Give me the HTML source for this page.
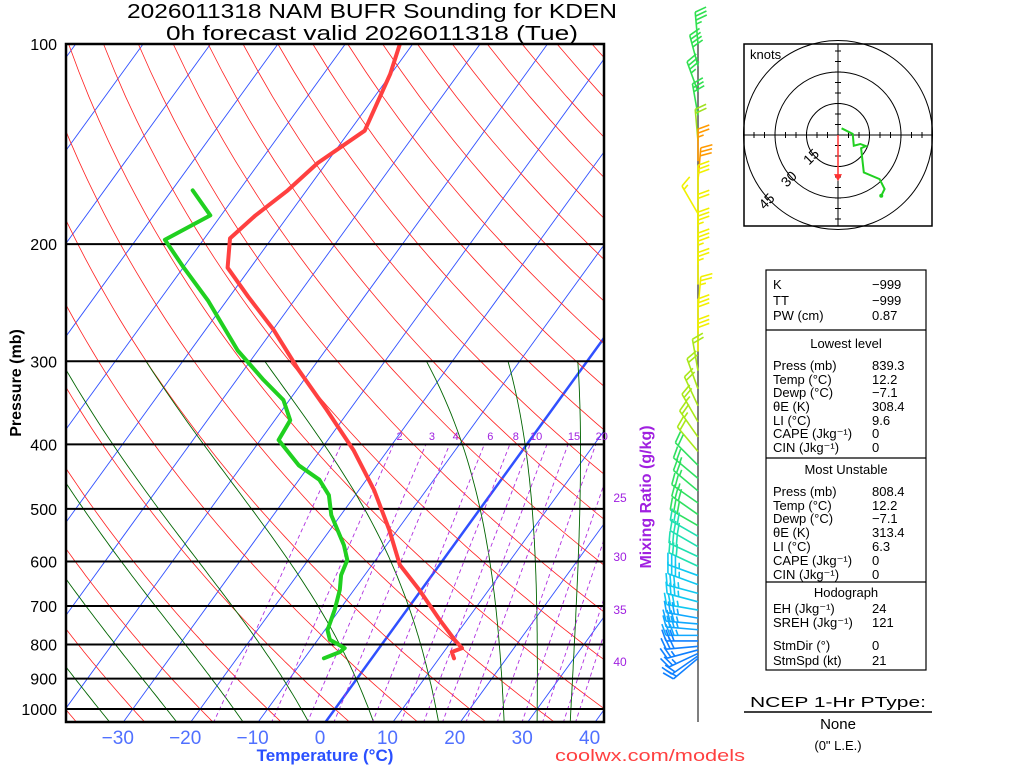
<!DOCTYPE html>
<html><head><meta charset="utf-8"><title>NAM BUFR Sounding KDEN</title>
<style>
html,body{margin:0;padding:0;background:#fff;}
svg{display:block;font-family:"Liberation Sans",sans-serif;}
</style></head>
<body>
<svg id="chart" width="1024" height="768" viewBox="0 0 1024 768" xmlns="http://www.w3.org/2000/svg">
<defs><clipPath id="plotclip"><rect x="66" y="44" width="538" height="678"/></clipPath></defs>
<rect x="0" y="0" width="1024" height="768" fill="#fff"/>
<text x="372" y="18" text-anchor="middle" font-size="20" textLength="490" lengthAdjust="spacingAndGlyphs">2026011318 NAM BUFR Sounding for KDEN</text>
<text x="372" y="40" text-anchor="middle" font-size="20" textLength="412" lengthAdjust="spacingAndGlyphs">0h forecast valid 2026011318 (Tue)</text>
<g id="bg" clip-path="url(#plotclip)"></g>
<g id="isobars"></g>
<g id="series" clip-path="url(#plotclip)"></g>
<rect x="66" y="44" width="538" height="678" fill="none" stroke="#000" stroke-width="2.5"/>
<g id="ylabels"></g>
<g id="xlabels"></g>
<text transform="translate(21,383) rotate(-90)" text-anchor="middle" font-size="16" font-weight="bold">Pressure (mb)</text>
<text x="325" y="761" text-anchor="middle" font-size="17" font-weight="bold" fill="#2a50ff">Temperature (°C)</text>
<text x="650" y="761" text-anchor="middle" font-size="17" fill="#ff4040" textLength="190" lengthAdjust="spacingAndGlyphs">coolwx.com/models</text>
<text transform="translate(651,497) rotate(-90)" text-anchor="middle" font-size="16" font-weight="bold" fill="#a020e0">Mixing Ratio (g/kg)</text>
<g id="mrlabels"></g>
<g id="barbs"></g>
<g id="hodo"></g>
<g id="table"></g>
<g>
<text x="838" y="707" text-anchor="middle" font-size="15" textLength="176" lengthAdjust="spacingAndGlyphs">NCEP 1-Hr PType:</text>
<line x1="744" y1="712" x2="932" y2="712" stroke="#000" stroke-width="1.5"/>
<text x="838" y="729" text-anchor="middle" font-size="15">None</text>
<text x="838" y="750" text-anchor="middle" font-size="13">(0" L.E.)</text>
</g>
</svg>
<script>
// ---- data ----
const tempP = [100,111,135,151,166,181,196,217,240,269,309,355,408,469,538,607,662,735,787,810,821,839];
const tempT = [-61.9,-60.1,-57.8,-61.3,-62.8,-64.9,-66.2,-63.4,-57.2,-49.9,-41.9,-33.4,-25.1,-17.7,-11.2,-5.9,-0.3,6.0,10.3,12.3,11.2,12.2];
const dewP = [166,181,197,217,243,289,320,343,368,394,430,452,477,511,567,597,629,662,710,761,787,810,821,839];
const dewT = [-76.9,-71.6,-75.7,-69.9,-62.8,-53.0,-46.0,-40.9,-37.7,-37.3,-31.6,-27.0,-23.9,-21.4,-16.3,-14.2,-13.5,-12.1,-10.7,-9.6,-8.2,-5.1,-5.4,-7.1];
const pressureTicks = [100,200,300,400,500,600,700,800,900,1000];
const tempTicks = [-30,-20,-10,0,10,20,30,40];
const mixRatioLines = [1,2,3,4,6,8,10,12,15,20,25,30,36,40];
const mixRatioLabels = [2,3,4,6,8,10,15,20];
const thetaWLabels = [25,30,35,40];
const windP = [100,108,118,128,140,150,160,170,180,188,200,215,230,250,270,290,310,330,350,370,390,410,430,450,470,490,510,530,550,570,590,610,630,650,670,690,710,730,745,760,775,790,805,815,825,832,839];
const windDir = [355,345,340,350,355,0,5,0,330,0,0,0,0,5,0,0,350,340,335,330,325,320,315,310,310,305,305,300,300,300,295,295,290,290,285,285,280,280,275,275,270,270,265,255,245,235,230];
const windSpd = [35,40,35,30,20,25,30,30,15,20,35,35,25,25,30,30,20,20,20,25,25,20,20,25,25,25,30,30,30,30,30,30,35,35,35,35,35,35,35,35,35,30,30,25,25,20,20];
const hodoU = [1.7,7,7.5,10.6,13.3,11,12.3,19.8,22.2,20.6];
const hodoV = [3.2,0.5,-5.1,-4.3,-5.3,-6.3,-17.8,-21,-25.7,-28.9];
const stormDir = 0, stormSpd = 21;

// ---- axes ----
const NS='http://www.w3.org/2000/svg';
function yP(p){return 44+665*Math.log10(p/100);}
function xT(t,p){return 335+6.74*t+0.725*(709-yP(p));}
function mk(tag,attrs,parent){const e=document.createElementNS(NS,tag);for(const k in attrs)e.setAttribute(k,attrs[k]);parent.appendChild(e);return e;}
function pathFrom(pts){return pts.map((q,i)=>(i?'L':'M')+q[0].toFixed(1)+','+q[1].toFixed(1)).join('');}
const bg=document.getElementById('bg');

for(let t=-120;t<=40;t+=10){
  const e=mk('line',{x1:xT(t,1050),y1:yP(1050),x2:xT(t,100),y2:yP(100),stroke:'#3050ff','stroke-width':t===0?2.5:0.9},bg);
  
  
}
for(let th=-40;th<=260;th+=10){
  const pts=[];for(let p=1050;p>=100;p-=10){pts.push([xT((th+273.15)*Math.pow(p/1000,0.286)-273.15,p),yP(p)]);}
  const e=mk('path',{d:pathFrom(pts),fill:'none',stroke:'#ff2020','stroke-width':0.8},bg);
  
  
}
function es(t){return 6.112*Math.exp(17.67*t/(t+243.5));}
function moist(tw){
  function grad(p,T){const tc=T-273.15;const rs=0.622*es(tc)/(p-es(tc));const Lv=2.5e6,Rd=287,Cp=1005;
    return (Rd*T+Lv*rs)/(Cp+Lv*Lv*rs*0.622/(Rd*T*T))/p;}
  let T=tw+273.15, Td=T;
  for(let q=1000;q<1050;q+=2){Td+=grad(q,Td)*2;}
  const pts=[[xT(Td-273.15,1050),yP(1050)]];
  for(let p=1000;p>=300;p-=2){if(p%10===0)pts.push([xT(T-273.15,p),yP(p)]);T-=grad(p,T)*2;}
  return pts;
}
for(let tw of [-35,-25,-15,-5,5,15,25,30,35,40]){
  const e=mk('path',{d:pathFrom(moist(tw)),fill:'none',stroke:'#006400','stroke-width':0.9},bg);
  
  
}
function tdFromW(w,p){const e=w*p/(622+w);const l=Math.log(e/6.112);return 243.5*l/(17.67-l);}
for(const w of mixRatioLines){
  const e=mk('line',{x1:xT(tdFromW(w,1050),1050),y1:yP(1050),x2:xT(tdFromW(w,400),400),y2:yP(400),stroke:'#b030e0','stroke-width':0.9,'stroke-dasharray':'4,3'},bg);
  
  
}
const mrl=document.getElementById('mrlabels');
for(const w of mixRatioLabels){
  const e=mk('text',{x:xT(tdFromW(w,400),400)+6,y:440,'text-anchor':'middle','font-size':11,fill:'#a020e0'},mrl);
  e.textContent=w;
  
  
}
const twY=[498,557,610,662];
thetaWLabels.forEach((v,i)=>{
  const e=mk('text',{x:620,y:twY[i]+4,'text-anchor':'middle','font-size':12,fill:'#a020e0'},mrl);
  e.textContent=v;
  
  
});
const iso=document.getElementById('isobars'), yl=document.getElementById('ylabels');
for(const p of pressureTicks){
  const e=mk('line',{x1:66,y1:yP(p),x2:604,y2:yP(p),stroke:'#000','stroke-width':2},iso);
  
  
  const t=mk('text',{x:57,y:yP(p)+6,'text-anchor':'end','font-size':16},yl);
  t.textContent=p;
  
  
}
const xl=document.getElementById('xlabels');
for(const v of tempTicks){
  const t=mk('text',{x:320+6.74*v,y:744,'text-anchor':'middle','font-size':19,fill:'#5070ff'},xl);
  t.textContent=v<0?'\u2212'+(-v):v;
  
  
}
const ser=document.getElementById('series');
const tl=mk('path',{d:pathFrom(tempP.map((p,i)=>[xT(tempT[i],p),yP(p)])),fill:'none',stroke:'#ff4040','stroke-width':4,'stroke-linejoin':'round','stroke-linecap':'round'},ser);


const dl=mk('path',{d:pathFrom(dewP.map((p,i)=>[xT(dewT[i],p),yP(p)])),fill:'none',stroke:'#20d020','stroke-width':4,'stroke-linejoin':'round','stroke-linecap':'round'},ser);



const bb=document.getElementById('barbs');
const ax=mk('line',{x1:698,y1:44,x2:698,y2:722,stroke:'#555','stroke-width':1.5},bb);


function barbColor(p){
  if(p<135) return '#30e050';
  if(p<150) return '#a0e020';
  if(p<170) return '#ff9a00';
  if(p<300) return '#f0f000';
  if(p<420) return '#a8e818';
  if(p<540) return '#30e060';
  if(p<620) return '#20e0b0';
  if(p<720) return '#10c8f0';
  if(p<790) return '#10a8ff';
  return '#1080ff';
}
windP.forEach((p,i)=>{
  const g=mk('g',{stroke:barbColor(p),'stroke-width':1.6,fill:'none'},bb);
  
  
  const y=yP(p),x=698,a=windDir[i]*Math.PI/180;
  const sx=Math.sin(a),sy=-Math.cos(a),L=32;
  const tx=x+sx*L,ty=y+sy*L;
  mk('line',{x1:x,y1:y,x2:tx,y2:ty},g);
  const r=70*Math.PI/180;
  const bx=sx*Math.cos(r)-sy*Math.sin(r),by=sx*Math.sin(r)+sy*Math.cos(r);
  let s=windSpd[i],k=0;
  while(s>=10){const px=tx-sx*k*4,py=ty-sy*k*4;mk('line',{x1:px,y1:py,x2:px+bx*12,y2:py+by*12},g);s-=10;k++;}
  if(s>=5){const px=tx-sx*(k*4+(k?0:4)),py=ty-sy*(k*4+(k?0:4));mk('line',{x1:px,y1:py,x2:px+bx*6,y2:py+by*6},g);}
});

const hg=document.getElementById('hodo');
const hcx=838,hcy=135,ks=2.1;
mk('rect',{x:744,y:44,width:188,height:182,fill:'#fff',stroke:'#000','stroke-width':1.5},hg);
const hcl=mk('g',{},hg);

[15,30,45].forEach(r=>{mk('circle',{cx:hcx,cy:hcy,r:r*ks,fill:'none',stroke:'#000','stroke-width':1},hcl);});
mk('line',{x1:744,y1:hcy,x2:932,y2:hcy,stroke:'#000','stroke-width':1},hcl);
mk('line',{x1:hcx,y1:44,x2:hcx,y2:226,stroke:'#000','stroke-width':1},hcl);
for(let k=-40;k<=40;k+=5){if(!k)continue;mk('line',{x1:hcx+k*ks,y1:hcy-3,x2:hcx+k*ks,y2:hcy+3,stroke:'#000'},hcl);mk('line',{x1:hcx-3,y1:hcy+k*ks,x2:hcx+3,y2:hcy+k*ks,stroke:'#000'},hcl);}
[[15,'15'],[30,'30'],[45,'45']].forEach(([r,t])=>{const a=Math.PI*0.75;const e=mk('text',{x:hcx+Math.cos(a)*r*ks-4,y:hcy+Math.sin(a)*r*ks+4,'font-size':14,'text-anchor':'middle',transform:`rotate(-45 ${hcx+Math.cos(a)*r*ks-4} ${hcy+Math.sin(a)*r*ks})`},hg);e.textContent=t;});
const kn=mk('text',{x:750,y:59,'font-size':13},hg);kn.textContent='knots';


const sa=stormDir*Math.PI/180;
const smx=hcx-Math.sin(sa)*stormSpd*ks, smy=hcy+Math.cos(sa)*stormSpd*ks;
const sm=mk('line',{x1:hcx,y1:hcy,x2:smx,y2:smy-3,stroke:'#ff3030','stroke-width':1.5},hg);


const st=mk('path',{d:`M${smx-4},${smy-5}L${smx+4},${smy-5}L${smx},${smy+2}Z`,fill:'#ff3030'},hg);


const ht=mk('path',{d:pathFrom(hodoU.map((u,i)=>[hcx+u*ks,hcy-hodoV[i]*ks])),fill:'none',stroke:'#20d020','stroke-width':2},hg);


const he=mk('circle',{cx:hcx+hodoU[hodoU.length-1]*ks,cy:hcy-hodoV[hodoV.length-1]*ks,r:2,fill:'#20d020'},hg);



const tb=document.getElementById('table');
mk('rect',{x:766,y:270,width:160,height:400,fill:'none',stroke:'#000','stroke-width':1.2},tb);
[330,458,582].forEach(y=>mk('line',{x1:766,y1:y,x2:926,y2:y,stroke:'#000','stroke-width':1.2},tb));
const rows=[
 [289,'K','\u2212999'],[305,'TT','\u2212999'],[320,'PW (cm)','0.87'],
 [348,'Lowest level',null],
 [370,'Press (mb)','839.3'],[384,'Temp (°C)','12.2'],[397,'Dewp (°C)','\u22127.1'],[411,'θE (K)','308.4'],[425,'LI (°C)','9.6'],[438,'CAPE (Jkg⁻¹)','0'],[452,'CIN (Jkg⁻¹)','0'],
 [474,'Most Unstable',null],
 [496,'Press (mb)','808.4'],[510,'Temp (°C)','12.2'],[523,'Dewp (°C)','\u22127.1'],[537,'θE (K)','313.4'],[551,'LI (°C)','6.3'],[565,'CAPE (Jkg⁻¹)','0'],[579,'CIN (Jkg⁻¹)','0'],
 [597,'Hodograph',null],
 [613,'EH (Jkg⁻¹)','24'],[627,'SREH (Jkg⁻¹)','121'],[650,'StmDir (°)','0'],[665,'StmSpd (kt)','21']
];
rows.forEach(r=>{
  if(r[2]===null){const e=mk('text',{x:846,y:r[0],'text-anchor':'middle','font-size':13},tb);e.textContent=r[1];return;}
  const a=mk('text',{x:773,y:r[0],'font-size':13},tb);a.textContent=r[1];
  
  
  const b=mk('text',{x:872,y:r[0],'font-size':13},tb);b.textContent=r[2];
  
  
});
</script>
</body></html>
